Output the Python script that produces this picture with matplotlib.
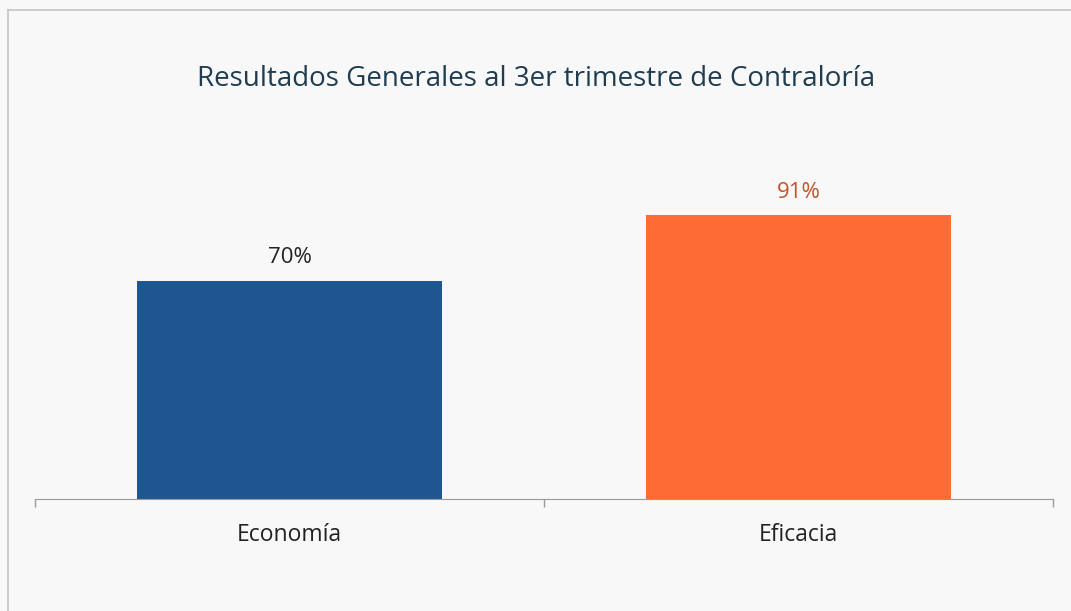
import matplotlib.pyplot as plt
from matplotlib.lines import Line2D

categorias = ['Economía', 'Eficacia']
valores = [70, 91]
etiquetas = ['70%', '91%']
colores = ['#1d5690', '#fd6c32']
colores_etiqueta = ['#222222', '#c2532a']

fig = plt.figure(figsize=(10.71, 6.11), dpi=100)
fig.patch.set_facecolor('#f8f8f8')

# marco del recuadro (solo arriba e izquierda, como en la imagen escaneada)
fig.add_artist(Line2D([8 / 1071, 8 / 1071], [0, 1 - 10 / 611], color='#c4c4c4', lw=1.2))
fig.add_artist(Line2D([8 / 1071, 1], [1 - 10 / 611, 1 - 10 / 611], color='#c4c4c4', lw=1.2))

ax = fig.add_axes([35 / 1071, 112 / 611, 1018 / 1071, 312 / 611])
ax.set_facecolor('none')

x = range(len(categorias))
barras = ax.bar(x, valores, width=0.6, color=colores)
ax.set_xlim(-0.5, 1.5)
ax.set_ylim(0, 100)

for b, txt, c in zip(barras, etiquetas, colores_etiqueta):
    ax.text(b.get_x() + b.get_width() / 2, b.get_height() + 4, txt,
            ha='center', va='bottom', fontsize=16, color=c, family='Open Sans')

ax.set_xticks([-0.5, 0.5, 1.5])
ax.set_xticklabels([])
ax.set_xticks(list(x), minor=True)
ax.set_xticklabels(categorias, minor=True, fontsize=16.5, color='#222222', family='Open Sans')
ax.tick_params(axis='x', which='major', length=6, color='#9a9a9a', width=1)
ax.tick_params(axis='x', which='minor', length=0, pad=17)
ax.set_yticks([])
for lado in ['top', 'right', 'left']:
    ax.spines[lado].set_visible(False)
ax.spines['bottom'].set_color('#9a9a9a')

fig.text(536 / 1071, 1 - 79 / 611, 'Resultados Generales al 3er trimestre de Contraloría',
         ha='center', va='center', fontsize=20, color='#1f3c50', family='Open Sans')

fig.savefig('out.png', dpi=100, facecolor=fig.get_facecolor())
